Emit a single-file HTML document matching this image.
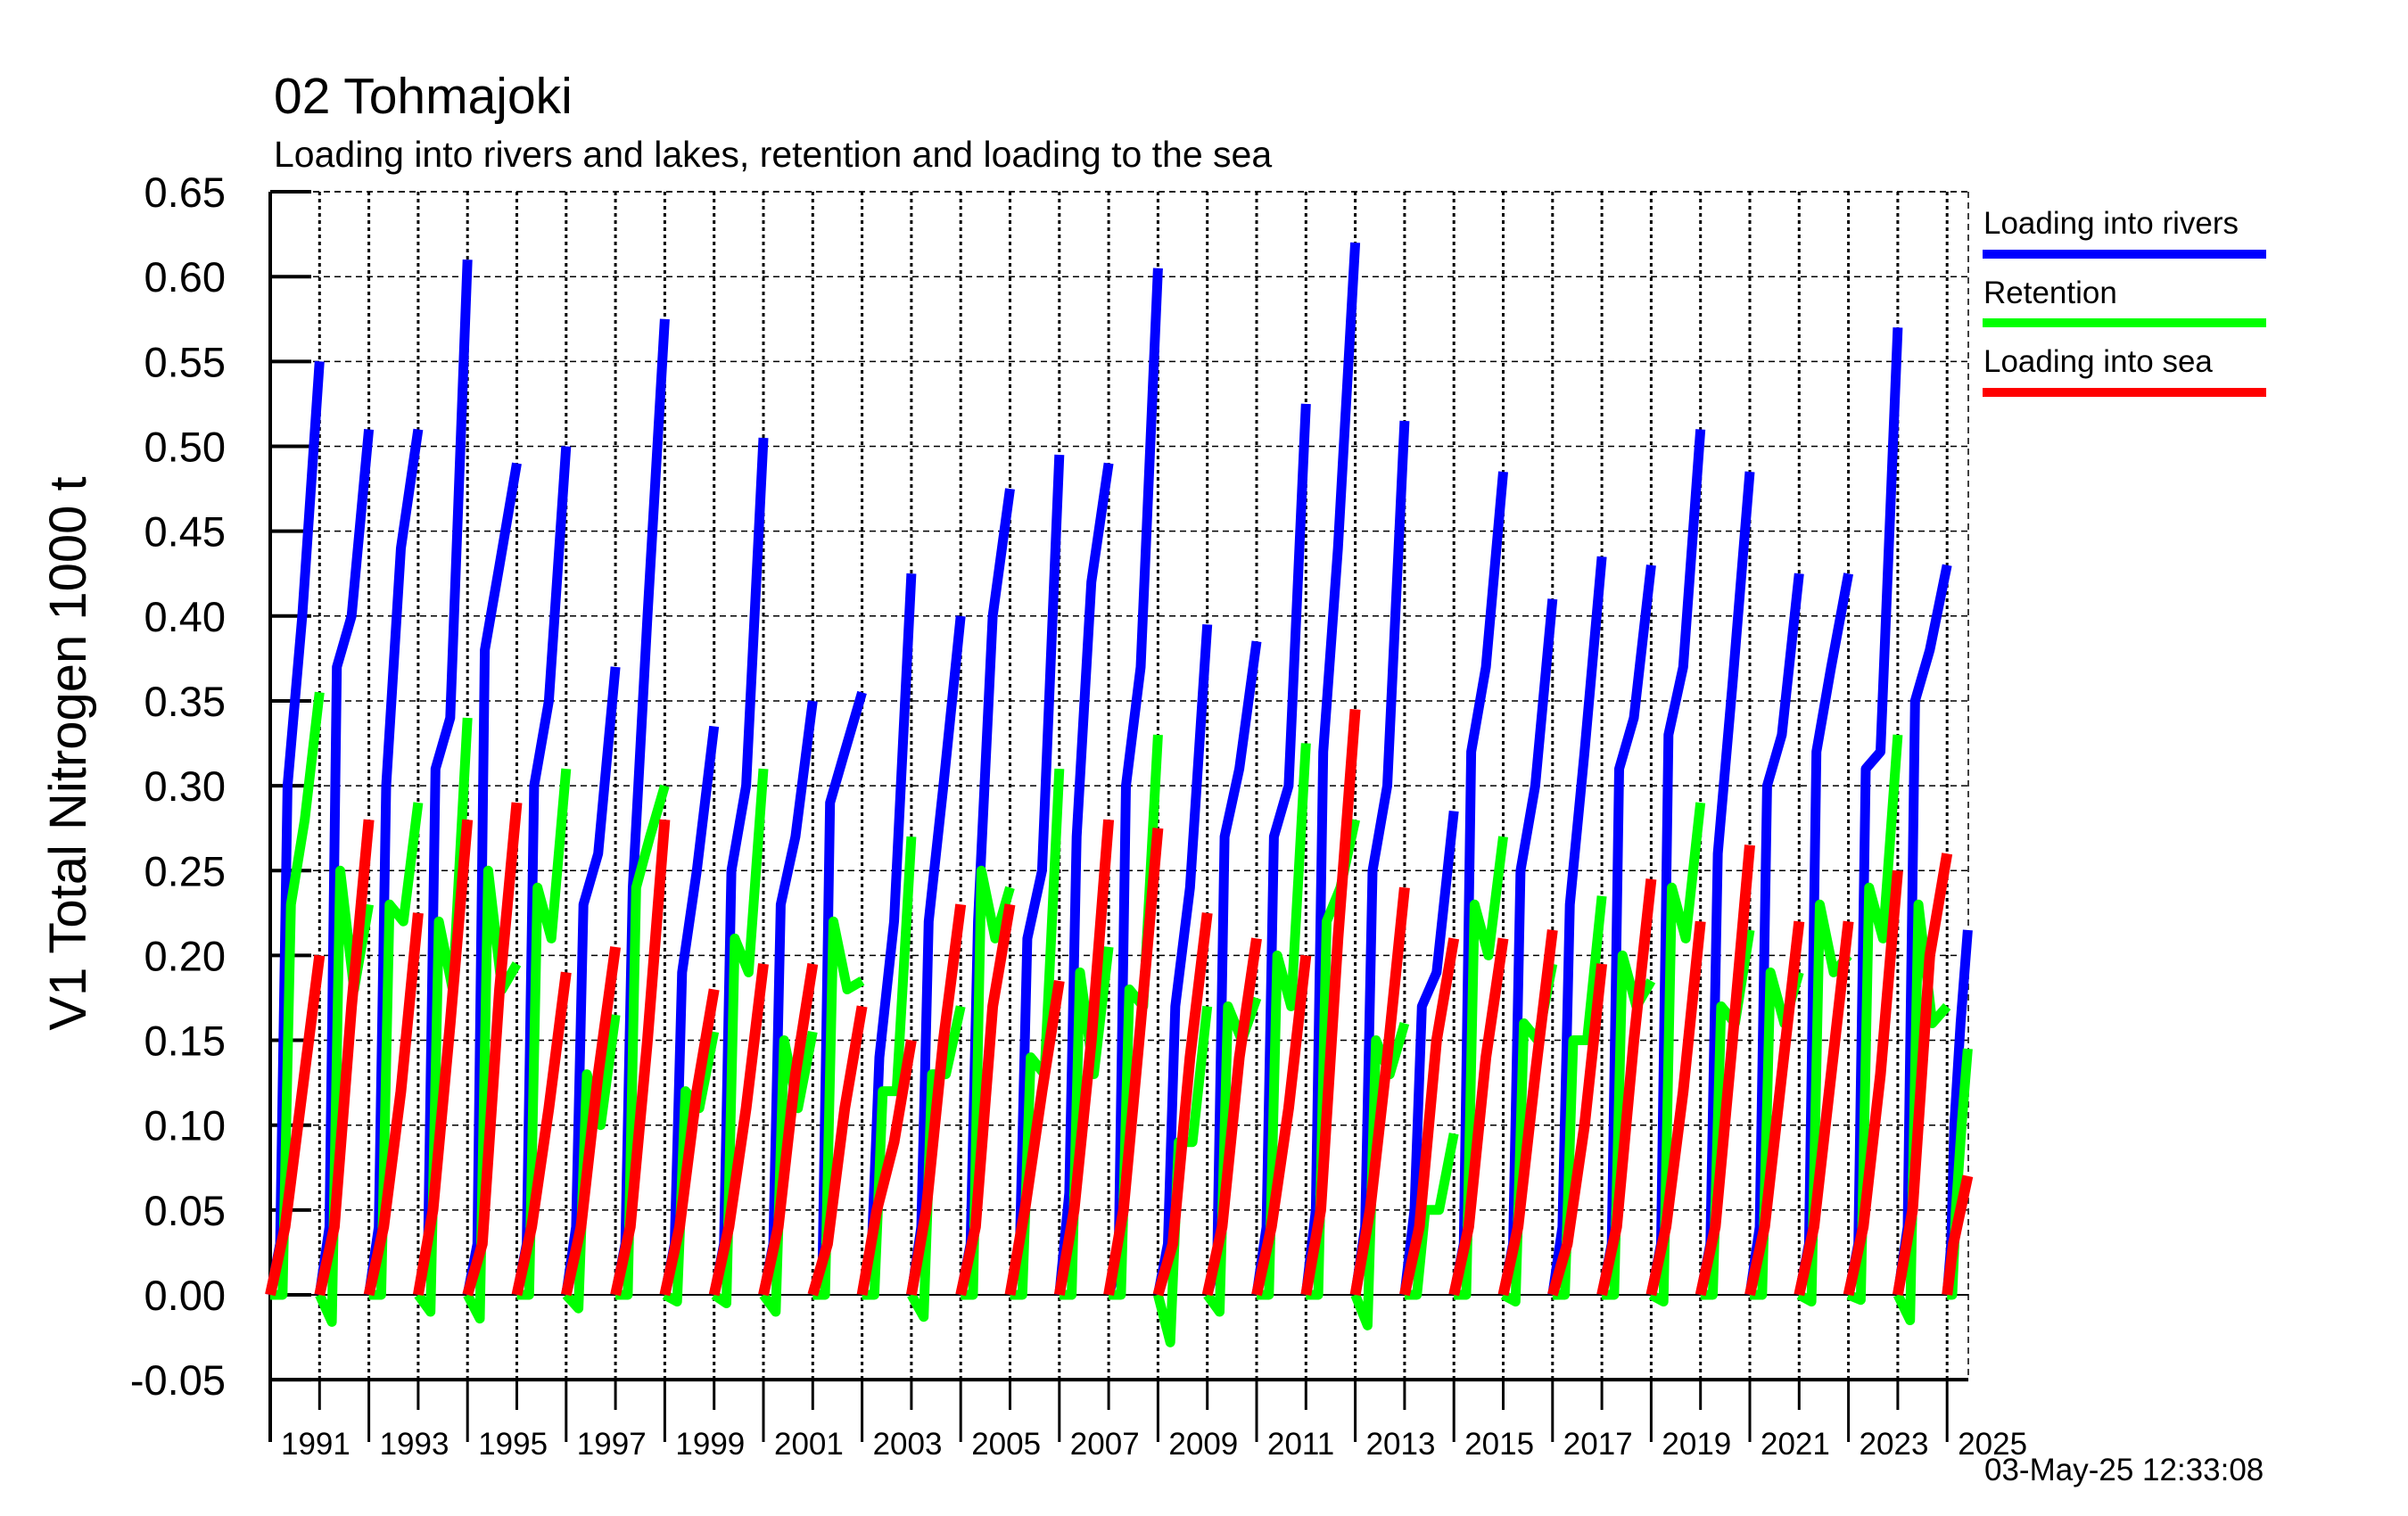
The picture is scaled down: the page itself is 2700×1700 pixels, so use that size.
<!DOCTYPE html>
<html><head><meta charset="utf-8">
<style>
html,body{margin:0;padding:0;background:#fff;}
svg{display:block;font-family:"Liberation Sans",Arial,sans-serif;}
</style></head>
<body>
<svg id="chart" width="2700" height="1700" viewBox="0 0 2700 1700" xmlns="http://www.w3.org/2000/svg">
<text x="307" y="127" font-size="57">02 Tohmajoki</text>
<text x="307" y="187" font-size="41">Loading into rivers and lakes, retention and loading to the sea</text>
<text transform="translate(96,845) rotate(-90)" text-anchor="middle" font-size="58">V1 Total Nitrogen 1000 t</text>
<text x="2225" y="1660" font-size="35">03-May-25 12:33:08</text>
<g id="grid"></g>
<g id="axes"></g>
<g id="series"></g>
<g>
<text x="2224" y="262" font-size="35">Loading into rivers</text>
<rect x="2223" y="280" width="318" height="10" fill="#0000ff"/>
<text x="2224" y="340" font-size="35">Retention</text>
<rect x="2223" y="357" width="318" height="10" fill="#00ff00"/>
<text x="2224" y="417" font-size="35">Loading into sea</text>
<rect x="2223" y="435" width="318" height="10" fill="#ff0000"/>
</g>
</svg>
<script>
// ---- data ----
const years = [1991,1992,1993,1994,1995,1996,1997,1998,1999,2000,2001,2002,2003,2004,2005,2006,2007,2008,2009,2010,2011,2012,2013,2014,2015,2016,2017,2018,2019,2020,2021,2022,2023,2024,2025];
const yearSpan = [1,1,1,1,1,1,1,1,1,1,1,1,1,1,1,1,1,1,1,1,1,1,1,1,1,1,1,1,1,1,1,1,1,1,0.42];
// blue: values at fractions [0.2,0.35,0.65,1]
const riversEarly  = [0.03,0.04,0.04,0.03,0.03,0.03,0.04,0.03,0.03,0.03,0.03,0.02,0.03,0.04,0.03,0.03,0.06,0.02,0.03,0.02,0.04,0.05,0.04,0.05,0.03,0.03,0.04,0.03,0.03,0.03,0.04,0.03,0.03,0.04,0.03];
const riversSpring = [0.30,0.37,0.30,0.31,0.38,0.30,0.23,0.24,0.19,0.25,0.23,0.29,0.14,0.22,0.22,0.21,0.27,0.30,0.17,0.27,0.27,0.32,0.25,0.17,0.32,0.25,0.23,0.31,0.33,0.26,0.30,0.32,0.31,0.35,0.10];
const riversMid    = [0.40,0.40,0.44,0.34,0.43,0.35,0.26,0.40,0.25,0.30,0.27,0.32,0.22,0.30,0.40,0.25,0.42,0.37,0.24,0.31,0.30,0.44,0.30,0.19,0.37,0.30,0.32,0.34,0.37,0.36,0.33,0.37,0.32,0.38,0.16];
const riversFinal  = [0.55,0.51,0.51,0.61,0.49,0.50,0.37,0.575,0.335,0.505,0.35,0.355,0.425,0.40,0.475,0.495,0.49,0.605,0.395,0.385,0.525,0.62,0.515,0.285,0.485,0.41,0.435,0.43,0.51,0.485,0.425,0.425,0.57,0.43,0.215];
// red: values at fractions [0.3,0.65,1]
const seaEarly = [0.04,0.04,0.04,0.05,0.03,0.04,0.04,0.04,0.04,0.04,0.04,0.03,0.05,0.05,0.04,0.05,0.05,0.05,0.03,0.04,0.04,0.05,0.05,0.04,0.04,0.04,0.03,0.04,0.04,0.04,0.04,0.04,0.04,0.05,0.03];
const seaMid   = [0.12,0.17,0.12,0.16,0.18,0.11,0.13,0.15,0.12,0.11,0.13,0.11,0.09,0.15,0.17,0.12,0.15,0.16,0.14,0.14,0.11,0.21,0.14,0.15,0.14,0.13,0.10,0.15,0.12,0.15,0.13,0.13,0.13,0.20,0.05];
const seaFinal = [0.20,0.28,0.225,0.28,0.29,0.19,0.205,0.28,0.18,0.195,0.195,0.17,0.15,0.23,0.23,0.185,0.28,0.275,0.225,0.21,0.20,0.345,0.24,0.21,0.21,0.215,0.195,0.245,0.22,0.265,0.22,0.22,0.25,0.26,0.07];
// green: values at fractions [0.25,0.42,0.7,1]
const retMin   = [0.00,-0.016,0.00,-0.01,-0.014,0.00,-0.008,0.00,-0.004,-0.005,-0.01,0.00,0.00,-0.013,0.00,0.00,0.00,0.00,-0.028,-0.01,0.00,0.00,-0.018,0.00,0.00,-0.004,0.00,0.00,-0.004,0.00,0.00,-0.004,-0.003,-0.015,0.00];
const retJump  = [0.23,0.25,0.23,0.22,0.25,0.24,0.13,0.24,0.12,0.21,0.15,0.22,0.12,0.13,0.25,0.14,0.19,0.18,0.09,0.17,0.20,0.22,0.15,0.05,0.23,0.16,0.15,0.20,0.24,0.17,0.19,0.23,0.24,0.23,0.05];
const retMid   = [0.28,0.18,0.22,0.18,0.18,0.21,0.10,0.27,0.11,0.19,0.11,0.18,0.12,0.13,0.21,0.13,0.13,0.17,0.09,0.15,0.17,0.24,0.13,0.05,0.20,0.15,0.15,0.17,0.21,0.16,0.16,0.19,0.21,0.16,0.10];
const retFinal = [0.355,0.23,0.29,0.34,0.195,0.31,0.165,0.30,0.155,0.31,0.155,0.185,0.27,0.17,0.24,0.31,0.205,0.33,0.17,0.175,0.325,0.28,0.16,0.095,0.27,0.195,0.235,0.185,0.29,0.215,0.19,0.20,0.33,0.17,0.145];
const yTicks = [0.65,0.60,0.55,0.50,0.45,0.40,0.35,0.30,0.25,0.20,0.15,0.10,0.05,0.00,-0.05];
const xLabels = ["1991","1993","1995","1997","1999","2001","2003","2005","2007","2009","2011","2013","2015","2017","2019","2021","2023","2025"];

// ---- scales ----
const X0 = 303, PXY = 55.3, XR = 2207;
const Y0 = 1452, PXV = 1903; // px per 1.0
function xs(t){ return X0 + (t - 1990) * PXY; }
function ys(v){ return Y0 - v * PXV; }
const NS = "http://www.w3.org/2000/svg";
function mk(tag, attrs, parent){ const e=document.createElementNS(NS,tag); for(const k in attrs) e.setAttribute(k,attrs[k]); parent.appendChild(e); return e; }

const grid = document.getElementById('grid');
const axes = document.getElementById('axes');
const series = document.getElementById('series');
const yTop = ys(0.65), yBot = ys(-0.05);

yTicks.forEach(v=>{
  const y = ys(v);
  if (v > -0.05 && v !== 0) {
    const l = mk('line',{x1:X0,x2:XR,y1:y,y2:y,stroke:'#000','stroke-width':1.5,'stroke-dasharray':'7,5'},grid);
    
    
  }
  const tk = mk('line',{x1:X0,x2:X0+46,y1:y,y2:y,stroke:'#000','stroke-width':4},axes);
  
  
  const t = mk('text',{x:253,y:y+17,'text-anchor':'end','font-size':47},axes);
  t.textContent = v.toFixed(2);
  
  
});
const z = mk('line',{x1:X0,x2:XR,y1:ys(0),y2:ys(0),stroke:'#000','stroke-width':2},grid);


for (let i=1;i<=34;i++){
  const x = xs(1990+i);
  const g = mk('line',{x1:x,x2:x,y1:yTop,y2:yBot,stroke:'#000','stroke-width':3,'stroke-dasharray':'4,4'},grid);
  
  
}
for (let i=0;i<=34;i++){
  const x = xs(1990+i);
  const long = i%2===0;
  const tk = mk('line',{x1:x,x2:x,y1:yBot,y2:long?1617:1581,stroke:'#000','stroke-width':3},axes);
  
  
}
xLabels.forEach((s,k)=>{
  const t = mk('text',{x:xs(1990+2*k)+12,y:1631,'font-size':35},axes);
  t.textContent = s;
  
  
});
const tb = mk('line',{x1:X0,x2:XR,y1:yTop,y2:yTop,stroke:'#000','stroke-width':1.5,'stroke-dasharray':'7,5'},grid);


const rb = mk('line',{x1:XR,x2:XR,y1:yTop,y2:yBot,stroke:'#000','stroke-width':1.5,'stroke-dasharray':'7,5'},grid);


const la = mk('line',{x1:X0,x2:X0,y1:yTop,y2:1617,stroke:'#000','stroke-width':4},axes);


const ba = mk('line',{x1:X0,x2:XR,y1:yBot,y2:yBot,stroke:'#000','stroke-width':4},axes);



function drawYear(i, fr, vals, color, w, name){
  const start = years[i]-1;
  const span = yearSpan[i];
  let d = 'M' + xs(start).toFixed(1) + ',' + ys(0).toFixed(1);
  fr.forEach((f,k)=>{ d += ' L' + xs(start + f*span).toFixed(1) + ',' + ys(vals[k]).toFixed(1); });
  const p = mk('path',{d:d,fill:'none',stroke:color,'stroke-width':w,'stroke-linejoin':'round'},series);
  
  
}
for (let i=0;i<years.length;i++){
  drawYear(i,[0.2,0.35,0.65,1],[riversEarly[i],riversSpring[i],riversMid[i],riversFinal[i]],'#0000ff',11,'rivers-line');
}
for (let i=0;i<years.length;i++){
  drawYear(i,[0.25,0.42,0.7,1],[retMin[i],retJump[i],retMid[i],retFinal[i]],'#00ff00',11,'retention-line');
}
for (let i=0;i<years.length;i++){
  drawYear(i,[0.3,0.65,1],[seaEarly[i],seaMid[i],seaFinal[i]],'#ff0000',12,'sea-line');
}
</script>
</body></html>
